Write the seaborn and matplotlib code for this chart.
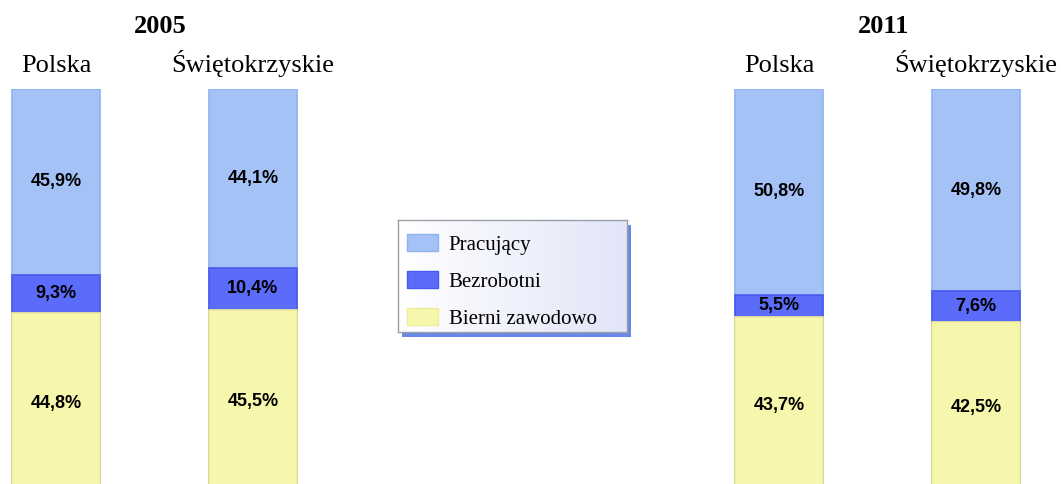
import numpy as np
import pandas as pd
import matplotlib
matplotlib.use("Agg")
import matplotlib.pyplot as plt
import matplotlib.transforms as mtransforms
from matplotlib.patches import Patch, Rectangle
from matplotlib.colors import LinearSegmentedColormap
import seaborn as sns

# ---- data ----
years = ["2005", "2005", "2011", "2011"]
regions = ["Polska", "Świętokrzyskie", "Polska", "Świętokrzyskie"]
pracujacy = [45.9, 44.1, 50.8, 49.8]
bezrobotni = [9.3, 10.4, 5.5, 7.6]
bierni = [44.8, 45.5, 43.7, 42.5]
series_names = ["Pracujący", "Bezrobotni", "Bierni zawodowo"]

# ---- style / layout ----
sns.set_style("white")
plt.rcParams["font.family"] = ["Liberation Serif", "DejaVu Serif"]
plt.rcParams["text.color"] = "black"

fill_colors = ["#A4C2F6", "#5B6BFA", "#F6F6AC"]
edge_colors = ["#8FB2F0", "#4A5AF0", "#EEEE98"]
positions = np.array([0.0, 1.0, 3.67, 4.67])

W, H = 1061, 484
fig = plt.figure(figsize=(W / 100, H / 100), dpi=100)
ax = fig.add_axes([0, (H - 494) / H, 1, 405 / H])

df = pd.DataFrame({
    "pos": positions,
    "year": years,
    "region": regions,
    "prac": pracujacy,
    "bez": bezrobotni,
    "bier": bierni,
})
df["top_all"] = df["prac"] + df["bez"] + df["bier"]
df["top_bez"] = df["bez"] + df["bier"]
df["top_bier"] = df["bier"]

for col, fc, ec in zip(["top_all", "top_bez", "top_bier"], fill_colors, edge_colors):
    sns.barplot(data=df, x="pos", y=col, native_scale=True, width=0.447,
                color=fc, saturation=1, edgecolor=ec, linewidth=1.2,
                errorbar=None, ax=ax)

ax.set_xlim(-56 / 197, (1061 - 56) / 197)
ax.set_ylim(0, df["top_all"].max())
ax.axis("off")


def fmt(v):
    return f"{v:.1f}".replace(".", ",") + "%"


lab_kw = dict(ha="center", va="center", fontsize=13, fontweight="bold",
              family=["Liberation Sans", "DejaVu Sans"], color="black")
for _, r in df.iterrows():
    ax.text(r["pos"], r["bier"] + r["bez"] + r["prac"] / 2, fmt(r["prac"]), **lab_kw)
    ax.text(r["pos"], r["bier"] + r["bez"] / 2, fmt(r["bez"]), **lab_kw)
    ax.text(r["pos"], r["bier"] / 2, fmt(r["bier"]), **lab_kw)

trans = mtransforms.blended_transform_factory(ax.transData, fig.transFigure)
for _, r in df.iterrows():
    ax.text(r["pos"], 1 - 72 / H, r["region"], transform=trans,
            ha="center", va="baseline", fontsize=19)
for yr in ["2005", "2011"]:
    xc = df.loc[df["year"] == yr, "pos"].mean() + 0.03
    ax.text(xc, 1 - 33 / H, yr, transform=trans, ha="center", va="baseline",
            fontsize=19, fontweight="bold")

# legend background box with gradient and blue shadow
bx0, by0, bw, bh = 398, 220, 229, 112  # pixels from top-left
shadow = Rectangle(((bx0 + 4) / W, 1 - (by0 + bh + 5) / H), bw / W, bh / H,
                   transform=fig.transFigure, facecolor="#6A86E8",
                   edgecolor="none", zorder=1.5)
fig.add_artist(shadow)
ax_bg = fig.add_axes([bx0 / W, 1 - (by0 + bh) / H, bw / W, bh / H])
ax_bg.set_zorder(2)
grad_cmap = LinearSegmentedColormap.from_list("lg", ["#FFFFFF", "#E2E5F8"])
ax_bg.imshow(np.linspace(0, 1, 256)[None, :], cmap=grad_cmap, aspect="auto",
             extent=[0, 1, 0, 1])
ax_bg.set_xticks([])
ax_bg.set_yticks([])
for s in ax_bg.spines.values():
    s.set_color("#9AA0A8")
    s.set_linewidth(1.0)

handles = [Patch(facecolor=fc, edgecolor=ec) for fc, ec in zip(fill_colors, edge_colors)]
leg = fig.legend(handles, series_names, loc="upper left",
                 bbox_to_anchor=(407 / W, 1 - 234 / H), fontsize=15,
                 frameon=False, handlelength=1.5, handleheight=0.85,
                 labelspacing=0.8, borderpad=0, handletextpad=0.5,
                 borderaxespad=0)
leg.set_zorder(5)

fig.savefig("out.png", dpi=100)
